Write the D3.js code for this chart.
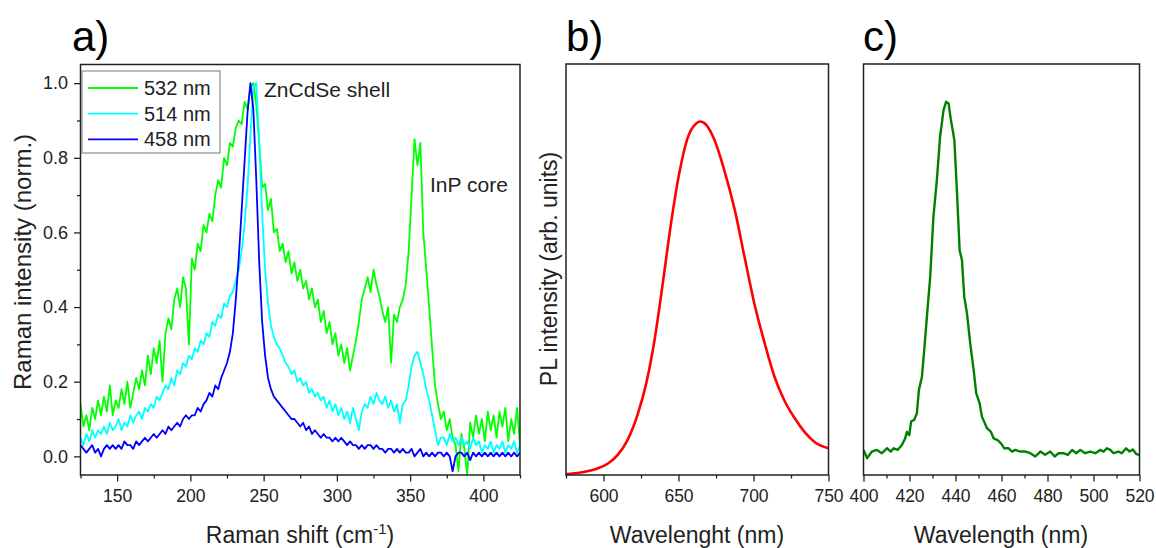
<!DOCTYPE html>
<html>
<head>
<meta charset="utf-8">
<script src="https://cdn.jsdelivr.net/npm/d3@7"></script>
<style>
  body { margin: 0; background: #fff; }
  svg { display: block; font-family: "Liberation Sans", Arial, sans-serif; }
</style>
</head>
<body>
<svg width="1156" height="548"></svg>
<script>
// a) Raman spectra, sampled every 2 cm-1 from 125 to 425
var ramanShift = d3.range(125, 426, 2);

var raman532 = [
  0.14,0.08,0.11,0.07,0.13,0.10,0.15,0.11,0.16,0.12,
  0.19,0.11,0.15,0.13,0.18,0.14,0.20,0.13,0.17,0.21,
  0.18,0.23,0.19,0.27,0.22,0.29,0.25,0.31,0.20,0.33,
  0.37,0.34,0.42,0.45,0.40,0.48,0.45,0.30,0.53,0.50,
  0.57,0.55,0.62,0.60,0.65,0.63,0.70,0.74,0.72,0.80,
  0.78,0.84,0.83,0.88,0.90,0.89,0.95,0.93,0.99,1.00,
  0.94,0.84,0.72,0.73,0.66,0.69,0.60,0.61,0.55,0.57,
  0.52,0.55,0.49,0.52,0.47,0.50,0.45,0.47,0.42,0.45,
  0.40,0.42,0.36,0.39,0.33,0.36,0.30,0.33,0.27,0.30,
  0.25,0.29,0.23,0.27,0.31,0.36,0.42,0.45,0.48,0.44,
  0.50,0.46,0.43,0.39,0.36,0.40,0.25,0.38,0.36,0.40,
  0.42,0.46,0.55,0.70,0.85,0.78,0.84,0.60,0.50,0.40,
  0.29,0.19,0.14,0.10,0.12,0.07,0.10,0.05,0.03,-0.04,
  0.06,0.02,-0.05,0.09,0.05,0.11,0.06,0.10,0.04,0.12,
  0.07,0.11,0.05,0.12,0.08,0.13,0.04,0.10,0.06,0.13,
  0.03
];

var raman514 = [
  0.05,0.03,0.06,0.04,0.07,0.05,0.07,0.06,0.08,0.06,
  0.09,0.07,0.08,0.10,0.07,0.09,0.08,0.11,0.09,0.11,
  0.12,0.10,0.13,0.12,0.14,0.13,0.16,0.15,0.17,0.19,
  0.18,0.21,0.19,0.23,0.22,0.25,0.24,0.27,0.26,0.29,
  0.28,0.31,0.30,0.33,0.32,0.36,0.35,0.38,0.37,0.41,
  0.40,0.43,0.44,0.47,0.50,0.55,0.62,0.72,0.86,0.99,
  1.00,0.84,0.65,0.50,0.41,0.35,0.32,0.30,0.29,0.27,
  0.25,0.24,0.22,0.23,0.20,0.21,0.19,0.20,0.17,0.18,
  0.16,0.17,0.15,0.16,0.13,0.15,0.12,0.14,0.11,0.13,
  0.10,0.12,0.09,0.13,0.10,0.07,0.12,0.14,0.13,0.16,
  0.14,0.17,0.15,0.14,0.16,0.13,0.15,0.12,0.14,0.09,
  0.14,0.15,0.19,0.24,0.27,0.28,0.25,0.22,0.18,0.15,
  0.11,0.07,0.03,0.05,0.05,0.03,0.06,0.04,0.05,0.03,
  0.05,0.03,0.04,0.02,0.05,0.03,0.04,0.01,0.03,0.02,
  0.04,0.01,0.03,0.02,0.04,0.01,0.03,0.02,0.04,0.01,
  0.03
];

var raman458 = [
  0.03,0.02,0.01,0.02,0.03,0.01,0.02,0.00,0.02,0.03,
  0.02,0.03,0.02,0.03,0.02,0.04,0.03,0.03,0.02,0.04,
  0.03,0.04,0.05,0.04,0.05,0.06,0.05,0.06,0.07,0.06,
  0.08,0.07,0.08,0.09,0.08,0.10,0.11,0.10,0.11,0.11,
  0.13,0.12,0.14,0.15,0.17,0.16,0.19,0.18,0.21,0.23,
  0.25,0.28,0.33,0.42,0.53,0.66,0.79,0.92,1.00,0.93,
  0.74,0.52,0.36,0.27,0.21,0.18,0.16,0.15,0.14,0.13,
  0.12,0.11,0.10,0.10,0.09,0.08,0.09,0.07,0.08,0.06,
  0.07,0.06,0.05,0.06,0.05,0.05,0.04,0.05,0.04,0.05,
  0.04,0.03,0.04,0.03,0.03,0.02,0.03,0.02,0.03,0.03,
  0.02,0.03,0.02,0.02,0.01,0.02,0.02,0.01,0.02,0.01,
  0.02,0.01,0.01,0.02,0.00,0.01,0.02,0.00,0.01,0.00,
  0.01,0.00,0.01,0.01,0.00,0.01,0.00,-0.04,0.00,0.01,
  0.01,0.00,0.01,-0.01,0.01,0.00,0.01,0.00,0.01,0.00,
  0.01,0.00,0.01,0.00,0.01,0.00,0.01,0.00,0.01,0.00,
  0.01
];

var ramanLabels = ["532 nm", "514 nm", "458 nm"];
var ramanXTicks = [150, 200, 250, 300, 350, 400];
var ramanXMinor = [125, 175, 225, 275, 325, 375, 425];
var ramanYTicks = [0, 0.2, 0.4, 0.6, 0.8, 1.0];
var ramanYMinor = [0.1, 0.3, 0.5, 0.7, 0.9];

// b) PL spectrum
var plWavelength = [575, 584.5, 596, 603, 609.5, 616, 623, 628.5, 634, 639.5, 645, 650.5, 656, 662, 664.5,
  668.5, 674, 680.5, 687.5, 694, 700.5, 707.5, 714, 720.5, 727.5, 734, 740.5, 750];
var plIntensity = [0.002, 0.006, 0.016, 0.028, 0.049, 0.085, 0.150, 0.223, 0.328, 0.466, 0.612, 0.734, 0.819, 0.856, 0.860,
  0.852, 0.815, 0.742, 0.645, 0.531, 0.418, 0.320, 0.239, 0.182, 0.138, 0.105, 0.081, 0.065];
var plXTicks = [600, 650, 700, 750];
var plXMinor = [575, 625, 675, 725];

// c) emission spectrum
var cWavelength = [400, 401.6, 403.6, 405.8, 408.0, 410.2, 411.9, 413.1, 414.8, 416.7, 418.1, 418.9, 419.9, 420.7,
  422.0, 423.2, 424.1, 425.4, 426.4, 427.8, 429.0, 430.4, 431.9, 433.3, 434.8, 435.9, 437.0, 438.0, 439.5,
  440.6, 441.8, 442.8, 443.8, 445.0, 446.4, 447.9, 449.0, 450.5, 451.5, 453.7, 455.4, 456.6, 458.3, 459.8,
  461.2, 463.1, 464.6, 466.0, 468.2, 470.4, 472.5, 474.7, 476.9, 479.0, 481.2, 483.1, 484.8, 487.0, 488.8,
  490.7, 492.5, 494.3, 496.4, 498.6, 500.8, 502.9, 504.4, 505.8, 507.3, 508.7, 510.9, 512.3, 514.2, 515.7,
  517.1, 518.6, 519.9];
var cIntensity = [0.061, 0.041, 0.057, 0.061, 0.053, 0.065, 0.057, 0.065, 0.061, 0.073, 0.089, 0.105, 0.097, 0.130,
  0.134, 0.150, 0.207, 0.239, 0.304, 0.401, 0.482, 0.628, 0.718, 0.823, 0.888, 0.908, 0.904, 0.864, 0.815,
  0.693, 0.547, 0.523, 0.434, 0.393, 0.320, 0.255, 0.199, 0.174, 0.142, 0.114, 0.105, 0.089, 0.085, 0.077,
  0.065, 0.065, 0.057, 0.061, 0.057, 0.057, 0.053, 0.045, 0.057, 0.049, 0.057, 0.045, 0.053, 0.053, 0.049,
  0.061, 0.053, 0.061, 0.053, 0.057, 0.053, 0.061, 0.057, 0.065, 0.061, 0.053, 0.057, 0.053, 0.065, 0.057,
  0.062, 0.051, 0.049];
var cXTicks = [400, 420, 440, 460, 480, 500, 520];
var cXMinor = [410, 430, 450, 470, 490, 510];

var svg = d3.select("svg");
var INK = "#222";

// box + outward ticks on bottom (and optionally left)
function drawAxes(x, y, xMajor, xMinor, yMajor, yMinor) {
  var x0 = x.range()[0], x1 = x.range()[1], y0 = y.range()[0], y1 = y.range()[1];

  var gx = svg.append("g").attr("transform", "translate(0," + y0 + ")").style("color", INK);
  gx.append("g").call(d3.axisBottom(x).tickValues(xMinor).tickSize(3.5).tickFormat(""));
  gx.append("g").call(d3.axisBottom(x).tickValues(xMajor).tickSize(6.5).tickPadding(8).tickFormat(d3.format("d")));
  gx.selectAll(".domain").remove();
  gx.selectAll("line").attr("stroke-width", 1.3);
  gx.selectAll("text").attr("font-size", 17.5).attr("font-family", null).attr("fill", INK);

  if (yMajor) {
    var gy = svg.append("g").attr("transform", "translate(" + x0 + ",0)").style("color", INK);
    gy.append("g").call(d3.axisLeft(y).tickValues(yMinor).tickSize(3.5).tickFormat(""));
    gy.append("g").call(d3.axisLeft(y).tickValues(yMajor).tickSize(6.5).tickPadding(6).tickFormat(d3.format(".1f")));
    gy.selectAll(".domain").remove();
    gy.selectAll("line").attr("stroke-width", 1.3);
    gy.selectAll("text").attr("font-size", 18).attr("font-family", null).attr("fill", INK);
  }

  svg.append("rect")
    .attr("x", x0).attr("y", y1)
    .attr("width", x1 - x0).attr("height", y0 - y1)
    .attr("fill", "none").attr("stroke", INK).attr("stroke-width", 1.5);
}

function addClip(id, x, y) {
  svg.append("clipPath").attr("id", id).append("rect")
    .attr("x", x.range()[0]).attr("y", y.range()[1])
    .attr("width", x.range()[1] - x.range()[0]).attr("height", y.range()[0] - y.range()[1]);
}

function panelLabel(txt, px) {
  svg.append("text").attr("x", px).attr("y", 51).attr("font-size", 42).attr("fill", "#000").text(txt);
}

function xTitle(txt, cx) {
  return svg.append("text").attr("x", cx).attr("y", 543).attr("text-anchor", "middle")
    .attr("font-size", 23).attr("fill", INK).text(txt);
}

function yTitle(txt, bx, cy, size) {
  svg.append("text").attr("transform", "translate(" + bx + "," + cy + ") rotate(-90)")
    .attr("text-anchor", "middle").attr("font-size", size).attr("fill", INK).text(txt);
}

// ---------- panel a ----------
var xa = d3.scaleLinear().domain([125, 425]).range([80.5, 520]);
var ya = d3.scaleLinear().domain([-0.05, 1.05]).range([475, 64.5]);
addClip("clipA", xa, ya);

var seriesA = [
  { label: ramanLabels[0], values: raman532, color: "#00ff00" },
  { label: ramanLabels[1], values: raman514, color: "#00ffff" },
  { label: ramanLabels[2], values: raman458, color: "#0000ff" }
];

var lineA = d3.line()
  .x(function (d, i) { return xa(ramanShift[i]); })
  .y(function (d) { return ya(d); });

svg.append("g").attr("clip-path", "url(#clipA)")
  .selectAll("path").data(seriesA).enter().append("path")
  .attr("d", function (s) { return lineA(s.values); })
  .attr("fill", "none")
  .attr("stroke", function (s) { return s.color; })
  .attr("stroke-width", 1.8)
  .attr("stroke-linejoin", "round");

drawAxes(xa, ya, ramanXTicks, ramanXMinor, ramanYTicks, ramanYMinor);

// legend
var lg = svg.append("g");
lg.append("rect").attr("x", 82).attr("y", 71).attr("width", 138).attr("height", 82)
  .attr("fill", "#fff").attr("stroke", "#777").attr("stroke-width", 1);
seriesA.forEach(function (s, i) {
  var cy = 88 + i * 25.7;
  lg.append("line").attr("x1", 88).attr("x2", 138).attr("y1", cy).attr("y2", cy)
    .attr("stroke", s.color).attr("stroke-width", 1.8);
  lg.append("text").attr("x", 144).attr("y", cy + 7).attr("font-size", 20).attr("fill", INK).text(s.label);
});

svg.append("text").attr("x", 264).attr("y", 96.5).attr("font-size", 21).attr("fill", INK).text("ZnCdSe shell");
svg.append("text").attr("x", 430).attr("y", 191.5).attr("font-size", 21).attr("fill", INK).text("InP core");

panelLabel("a)", 72);
var xt = xTitle("Raman shift (cm", 300);
xt.append("tspan").attr("dy", -9).attr("font-size", 15).text("-1");
xt.append("tspan").attr("dy", 9).text(")");
yTitle("Raman intensity (norm.)", 31, 262, 24);

// ---------- panel b ----------
var xb = d3.scaleLinear().domain([575, 750]).range([566, 828.5]);
var yb = d3.scaleLinear().domain([0, 1]).range([475, 64]);
addClip("clipB", xb, yb);

svg.append("path").attr("clip-path", "url(#clipB)")
  .datum(plIntensity)
  .attr("d", d3.line()
    .x(function (d, i) { return xb(plWavelength[i]); })
    .y(function (d) { return yb(d); })
    .curve(d3.curveMonotoneX))
  .attr("fill", "none").attr("stroke", "#ff0000").attr("stroke-width", 2.6);

drawAxes(xb, yb, plXTicks, plXMinor);
panelLabel("b)", 566);
xTitle("Wavelenght (nm)", 697);
yTitle("PL intensity (arb. units)", 557, 269, 23);

// ---------- panel c ----------
var xc = d3.scaleLinear().domain([400, 520]).range([863.5, 1139.5]);
var yc = d3.scaleLinear().domain([0, 1]).range([475, 64]);
addClip("clipC", xc, yc);

svg.append("path").attr("clip-path", "url(#clipC)")
  .datum(cIntensity)
  .attr("d", d3.line()
    .x(function (d, i) { return xc(cWavelength[i]); })
    .y(function (d) { return yc(d); }))
  .attr("fill", "none").attr("stroke", "#008000").attr("stroke-width", 2.4)
  .attr("stroke-linejoin", "round");

drawAxes(xc, yc, cXTicks, cXMinor);
panelLabel("c)", 863);
xTitle("Wavelength (nm)", 1001);
</script>
</body>
</html>
